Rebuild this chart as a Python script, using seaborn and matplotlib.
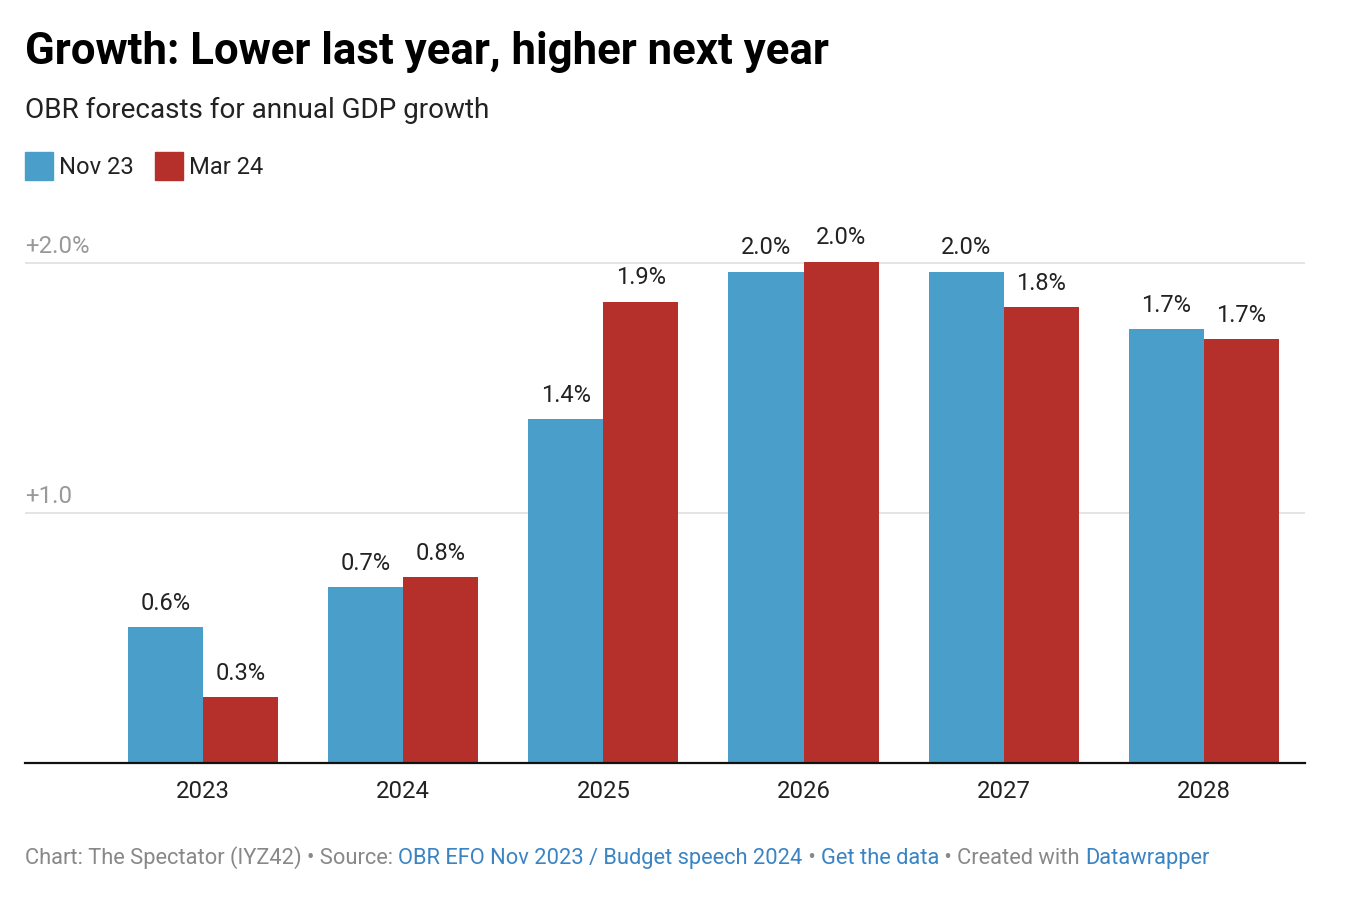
import matplotlib
matplotlib.use("Agg")
import matplotlib.pyplot as plt
from matplotlib.patches import Rectangle
from matplotlib.transforms import blended_transform_factory
import seaborn as sns
import pandas as pd

# ---- data ----
years = ["2023", "2024", "2025", "2026", "2027", "2028"]
series_names = ["Nov 23", "Mar 24"]
nov23 = [0.544, 0.704, 1.376, 1.964, 1.964, 1.736]
mar24 = [0.264, 0.744, 1.844, 2.004, 1.824, 1.696]
nov23_labels = ["0.6%", "0.7%", "1.4%", "2.0%", "2.0%", "1.7%"]
mar24_labels = ["0.3%", "0.8%", "1.9%", "2.0%", "1.8%", "1.7%"]
y_ticks = [1.0, 2.0]
y_tick_labels = ["+1.0", "+2.0%"]
colors = ["#4a9fca", "#b5302a"]

title = "Growth: Lower last year, higher next year"
subtitle = "OBR forecasts for annual GDP growth"
footer_parts = [("Chart: The Spectator (IYZ42) • Source: ", "#888888"),
                ("OBR EFO Nov 2023 / Budget speech 2024", "#3a84c4"),
                (" • ", "#888888"),
                ("Get the data", "#3a84c4"),
                (" • Created with ", "#888888"),
                ("Datawrapper", "#3a84c4")]

df = pd.DataFrame({
    "year": years * 2,
    "series": [series_names[0]] * len(years) + [series_names[1]] * len(years),
    "value": nov23 + mar24,
})

sns.set_theme(style="white")
plt.rcParams["font.family"] = ["Roboto", "DejaVu Sans"]

W, H = 1348, 914
fig = plt.figure(figsize=(W / 100, H / 100), dpi=100)
ax = fig.add_axes([25 / W, 1 - 763 / H, (1305 - 25) / W, (763 - 238) / H])

sns.barplot(data=df, x="year", y="value", hue="series", palette=colors,
            width=0.75, saturation=1, ax=ax, legend=False, linewidth=0,
            errorbar=None)

ax.set_xlim(-0.889, 5.505)
ax.set_ylim(0, 2.1)
for s in ["top", "right", "left"]:
    ax.spines[s].set_visible(False)
ax.spines["bottom"].set_color("#111111")
ax.spines["bottom"].set_linewidth(1.6)
ax.spines["bottom"].set_zorder(5)
ax.set_xlabel("")
ax.set_ylabel("")
ax.set_yticks([])
ax.tick_params(axis="x", length=0, pad=12, labelsize=17.2, labelcolor="#222222")

# gridlines + labels above them
trans = blended_transform_factory(ax.transAxes, ax.transData)
for v, lab in zip(y_ticks, y_tick_labels):
    ax.axhline(v, color="#e2e2e2", lw=1.3, zorder=0)
    ax.annotate(lab, xy=(0, v), xycoords=trans, xytext=(0, 3.5),
                textcoords="offset points", ha="left", va="bottom",
                fontsize=17.3, color="#999999")

# value labels
for cont, labs in zip(ax.containers, [nov23_labels, mar24_labels]):
    ax.bar_label(cont, labels=labs, padding=9, fontsize=17, color="#222222")

# titles
fig.text(25 / W, 1 - 64 / H, title, fontsize=31.5, fontweight="bold",
         color="#000000", ha="left", va="baseline")
fig.text(25 / W, 1 - 118 / H, subtitle, fontsize=20.1, color="#222222",
         ha="left", va="baseline")

# legend
lx = 25
for name, c in zip(series_names, colors):
    fig.patches.append(Rectangle((lx / W, 1 - 180 / H), 28 / W, 28 / H,
                                 transform=fig.transFigure, color=c))
    t = fig.text((lx + 34) / W, 1 - 174 / H, name, fontsize=17.1,
                 color="#222222", ha="left", va="baseline")
    fig.canvas.draw()
    bb = t.get_window_extent()
    lx = bb.x1 + 21

# footer
renderer = fig.canvas.get_renderer()
fx = 25
for txt, col in footer_parts:
    t = fig.text(fx / W, 1 - 864 / H, txt, fontsize=15.75, color=col,
                 ha="left", va="baseline")
    bb = t.get_window_extent(renderer=renderer)
    fx = bb.x1

fig.savefig("out.png", dpi=100, facecolor="white")
